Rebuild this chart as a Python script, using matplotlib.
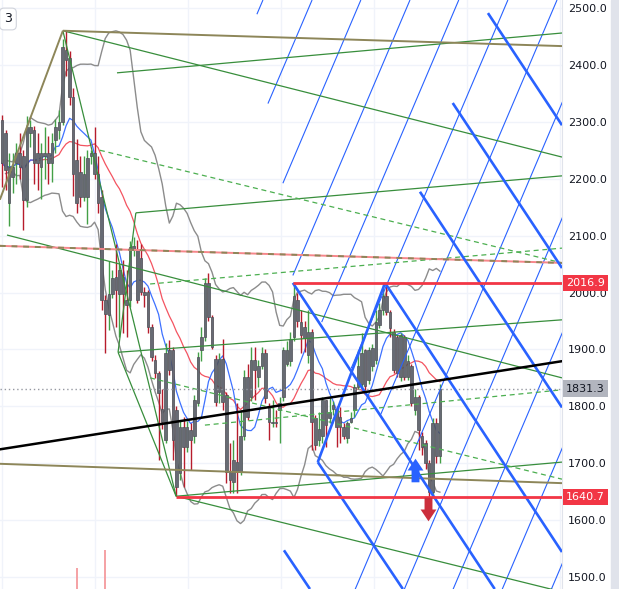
import numpy as np
import pandas as pd
import matplotlib
matplotlib.use("Agg")
import matplotlib.pyplot as plt
import matplotlib.transforms as mtransforms
from matplotlib.path import Path
from matplotlib.patches import Rectangle

# daily candles
opens = [2303, 2280, 2157, 2203, 2227, 2245, 2239, 2163, 2280, 2286,
         2245, 2221, 2239, 2245, 2227, 2268, 2286, 2300, 2426, 2412,
         2344, 2232, 2211, 2168, 2168, 2239, 2245, 2209, 2168, 1987,
         1960, 1998, 2028, 1998, 2028, 1987, 1987, 2075, 2075, 2060,
         2001, 2001, 1940, 1881, 1858, 1795, 1741, 1899, 1899, 1793,
         1682, 1764, 1729, 1758, 1747, 1805, 1899, 1922, 2016, 1957,
         1884, 1826, 1884, 1820, 1685, 1667, 1703, 1685, 1747, 1852,
         1817, 1881, 1852, 1870, 1893, 1799, 1770, 1773, 1793, 1817,
         1875, 1880, 1922, 1987, 1949, 1940, 1890, 1931, 1779, 1740,
         1747, 1811, 1779, 1796, 1796, 1782, 1764, 1744, 1773, 1793,
         1834, 1840, 1899, 1846, 1870, 1881, 1943, 1969, 1993, 1966,
         1931, 1922, 1852, 1922, 1852, 1870, 1793, 1817, 1747, 1735,
         1700, 1650, 1770, 1712]
highs = [2312, 2285, 2245, 2245, 2262, 2280, 2250, 2310, 2303, 2292,
         2280, 2262, 2290, 2275, 2280, 2305, 2320, 2445, 2461, 2425,
         2360, 2270, 2240, 2240, 2250, 2250, 2290, 2240, 2180, 1995,
         2055, 2040, 2086, 2050, 2057, 2040, 2090, 2098, 2092, 2085,
         2010, 2005, 1945, 1890, 1862, 1830, 1911, 1917, 1905, 1800,
         1775, 1782, 1775, 1770, 1820, 1895, 1940, 2025, 2034, 1960,
         1890, 1893, 1919, 1825, 1735, 1741, 1805, 1793, 1864, 1875,
         1905, 1905, 1881, 1905, 1900, 1805, 1811, 1793, 1817, 1905,
         1915, 1930, 2013, 2000, 1969, 1950, 1969, 1935, 1785, 1790,
         1817, 1811, 1817, 1810, 1800, 1799, 1770, 1775, 1790, 1840,
         1899, 1928, 1900, 1905, 1910, 1969, 1981, 2013, 2016.9, 1970,
         1935, 1925, 1928, 1925, 1890, 1875, 1830, 1820, 1755, 1740,
         1705, 1780, 1780, 1840]
lows = [2186, 2180, 2116, 2175, 2190, 2200, 2110, 2150, 2255, 2190,
        2180, 2165, 2200, 2190, 2195, 2245, 2270, 2295, 2380, 2330,
        2170, 2140, 2150, 2160, 2120, 2225, 2200, 2140, 1970, 1893,
        1934, 1990, 1940, 1922, 1928, 1922, 1975, 2065, 1981, 1995,
        1975, 1928, 1880, 1850, 1705, 1760, 1735, 1855, 1706, 1642,
        1670, 1659, 1720, 1688, 1735, 1800, 1880, 1915, 1950, 1900,
        1800, 1805, 1793, 1665, 1647, 1647, 1647, 1680, 1740, 1776,
        1810, 1811, 1834, 1865, 1805, 1741, 1764, 1764, 1735, 1810,
        1870, 1870, 1915, 1940, 1893, 1895, 1876, 1723, 1723, 1730,
        1735, 1729, 1770, 1785, 1729, 1735, 1743, 1735, 1770, 1782,
        1830, 1834, 1828, 1840, 1862, 1875, 1938, 1960, 1960, 1922,
        1858, 1852, 1845, 1846, 1846, 1800, 1785, 1723, 1715, 1690,
        1640.7, 1645, 1700, 1700]
closes = [2227, 2215, 2221, 2221, 2245, 2221, 2163, 2291, 2291, 2227,
          2227, 2245, 2245, 2227, 2262, 2291, 2300, 2432, 2409, 2344,
          2209, 2157, 2168, 2209, 2236, 2245, 2209, 2157, 1987, 1962,
          1998, 2025, 2004, 2040, 1998, 1978, 2080, 2082, 1987, 2001,
          1995, 1940, 1887, 1858, 1823, 1772, 1893, 1864, 1741, 1659,
          1764, 1729, 1764, 1741, 1811, 1887, 1922, 2016, 1957, 1905,
          1808, 1884, 1808, 1685, 1670, 1706, 1685, 1747, 1852, 1782,
          1881, 1864, 1870, 1893, 1814, 1773, 1773, 1770, 1805, 1899,
          1899, 1919, 1993, 1950, 1925, 1920, 1931, 1773, 1732, 1760,
          1811, 1767, 1790, 1802, 1764, 1764, 1747, 1770, 1779, 1834,
          1870, 1893, 1835, 1899, 1902, 1949, 1969, 1993, 1966, 1937,
          1864, 1858, 1925, 1852, 1880, 1805, 1817, 1758, 1729, 1700,
          1650, 1770, 1712, 1831.3]

vol_bars = [21, 29]
vol_tops = [1516, 1547]

yticks = [1500, 1600, 1700, 1800, 1900, 2000, 2100, 2200, 2300, 2400, 2500]
grid_bars = [0, 26.1, 52.2, 78.4, 104.5, 130.6, 156.7]
last_price = 1831.3
box_high = 2016.9
box_low = 1640.7

# drawing tools: (bar0, price0, bar1, price1)
black_line = (-1, 1724, 158, 1880)
green_lines = [
    (17.1, 2460, 48.9, 1642),
    (17.1, 2460, 157.3, 2238),
    (32.3, 2386, 157.3, 2456),
    (37.6, 2140, 157.3, 2205),
    (37.6, 2140, 32.6, 1895),
    (32.6, 1895, 157.3, 1952),
    (32.6, 1895, 48.9, 1642),
    (1.4, 2101, 157.3, 1850),
    (48.9, 1642, 157.3, 1702),
    (48.9, 1642, 157.3, 1474),
]
olive_lines = [
    (17.1, 2460, 157.3, 2433),
    (17.1, 2460, -0.6, 2163),
    (-0.6, 1699, 157.3, 1665),
]
dashed_lines = [
    (27.5, 2250, 157.3, 2052),
    (41.6, 2015, 157.3, 2078),
    (57.0, 1767, 157.3, 1829),
    (41.6, 1850, 157.3, 1672),
]
red_slant = (-0.6, 2082, 157.3, 2052)
thick_blue = [
    (136.5, 2491, 157.3, 2294),
    (126.6, 2333, 157.3, 2043),
    (117.4, 2177, 157.3, 1798),
    (107.6, 2016.9, 157.3, 1544),
    (81.7, 2016.9, 138.4, 1479),
    (88.7, 1702, 112.6, 1479),
    (79.2, 1547, 86.5, 1479),
    (88.7, 1702, 107.6, 2016.9),
]
thin_blue = [
    (71.6, 2489, 73.3, 2514),
    (74.7, 2332, 87.1, 2514),
    (78.9, 2192, 100.8, 2514),
    (81.7, 2030, 114.6, 2514),
    (89.8, 1948, 128.3, 2514),
    (98.1, 1867, 142.1, 2514),
    (106.4, 1786, 155.9, 2514),
    (99.1, 1477, 169.6, 2514),
    (112.9, 1477, 183.4, 2514),
    (126.6, 1477, 197.2, 2514),
    (140.4, 1477, 210.9, 2514),
    (154.2, 1477, 224.7, 2514),
]
up_arrow = (116, 1688)
down_arrow = (119.7, 1620)

o = np.array(opens, dtype=float)
h = np.array(highs, dtype=float)
l = np.array(lows, dtype=float)
c = np.array(closes, dtype=float)
idx = np.arange(len(c))

s = pd.Series(c)
mid = s.rolling(20, min_periods=1).mean()
sd = s.rolling(20, min_periods=2).std(ddof=0)
upper = mid + 2 * sd
lower = mid - 2 * sd
fast = s.rolling(9, min_periods=1).mean()

fig = plt.figure(figsize=(6.19, 5.89), dpi=100)
fig.patch.set_facecolor("white")
fig.patches.append(Rectangle((611 / 619, 0), 8 / 619, 1, transform=fig.transFigure,
                             color="#e0e3eb", zorder=0))
ax = fig.add_axes([0, 0, 562 / 619, 1])

ax.set_xlim(-0.56, 157.3)
ax.set_ylim(1479, 2514)

ax.set_xticks(grid_bars)
ax.set_yticks(yticks)
ax.set_yticklabels([f"{v:.1f}" for v in yticks])
ax.yaxis.tick_right()
ax.tick_params(axis="y", length=0, pad=4.3, labelsize=8, labelcolor="#131722")
ax.tick_params(axis="x", length=0, labelbottom=False)
ax.grid(color="#f0f3fa", lw=1, zorder=0)
ax.set_axisbelow(True)
for side in ["top", "left", "bottom"]:
    ax.spines[side].set_visible(False)
ax.spines["right"].set_color("#e0e3eb")

# volume spikes at the bottom
ax.bar(vol_bars, np.array(vol_tops) - 1479, bottom=1479, width=0.55,
       color="#f5a3a6", zorder=1)

# bollinger bands + moving averages
ax.plot(idx, upper, color="#8c8c8c", lw=1, zorder=2)
ax.plot(idx, lower, color="#8c8c8c", lw=1, zorder=2)
ax.plot(idx, mid, color="#f23645", lw=0.9, alpha=0.85, zorder=2)
ax.plot(idx, fast, color="#2962ff", lw=0.9, alpha=0.9, zorder=2)

# candles
up = c >= o
wick_col = np.where(up, "#43a047", "#b71c2c")
ax.vlines(idx, l, h, colors=wick_col, lw=1.0, zorder=3)
body = np.maximum(np.abs(c - o), 2)
ax.bar(idx, body, bottom=np.minimum(o, c), width=0.72, color="#676b74",
       edgecolor="#4b4e55", lw=0.5, zorder=4)


def seg(line, **kw):
    x0, y0, x1, y1 = line
    ax.plot([x0, x1], [y0, y1], solid_capstyle="butt", **kw)


for ln in thin_blue:
    seg(ln, color="#2962ff", lw=0.8, zorder=5)
for ln in thick_blue:
    seg(ln, color="#2962ff", lw=1.9, zorder=6)
for ln in green_lines:
    seg(ln, color="#388e3c", lw=0.9, zorder=5)
for ln in olive_lines:
    seg(ln, color="#8d8659", lw=1.4, zorder=5)
for ln in dashed_lines:
    seg(ln, color="#4caf50", lw=0.9, dashes=(4, 3), zorder=5)
seg(red_slant, color="#f7868b", lw=1.4, zorder=5)
seg(red_slant, color="#8d8659", lw=1.4, dashes=(3, 3), zorder=5)
seg(black_line, color="black", lw=1.8, zorder=7)

ax.axhline(last_price, color="#9598a1", lw=1, ls=(0, (1, 2)), zorder=5)
ax.hlines(box_high, 81.7, 160, color="#f23645", lw=2, zorder=7)
ax.hlines(box_low, 48.9, 160, color="#f23645", lw=2, zorder=7)

# arrows
k = 0.67
arrow_up = Path([(-k / 2, -1), (k / 2, -1), (k / 2, 0), (k, 0), (0, 1), (-k, 0),
                 (-k / 2, 0), (-k / 2, -1)])
arrow_dn = Path([(-k / 2, 1), (k / 2, 1), (k / 2, 0), (k, 0), (0, -1), (-k, 0),
                 (-k / 2, 0), (-k / 2, 1)])
ax.plot(*up_arrow, marker=arrow_up, ms=17, color="#2962ff", mec="none", zorder=8)
ax.plot(*down_arrow, marker=arrow_dn, ms=17, color="#cc2f3c", mec="none", zorder=8)

# price labels on the axis
trans = mtransforms.blended_transform_factory(ax.transAxes, ax.transData)
for val, fc, tc in [(box_high, "#f23645", "white"), (last_price, "#b2b5be", "#131722"),
                    (box_low, "#f23645", "white")]:
    ax.text(1.0075, val, f"{val:.1f}", transform=trans, ha="left", va="center",
            fontsize=8, color=tc, zorder=20, clip_on=False,
            bbox=dict(boxstyle="square,pad=0.3", fc=fc, ec="none"))

fig.text(8 / 619, 1 - 19 / 589, "3", fontsize=9, color="#131722", ha="center", va="center",
         bbox=dict(boxstyle="round,pad=0.35", fc="white", ec="#d1d4dc", lw=0.8))

fig.savefig("out.png", dpi=100)
